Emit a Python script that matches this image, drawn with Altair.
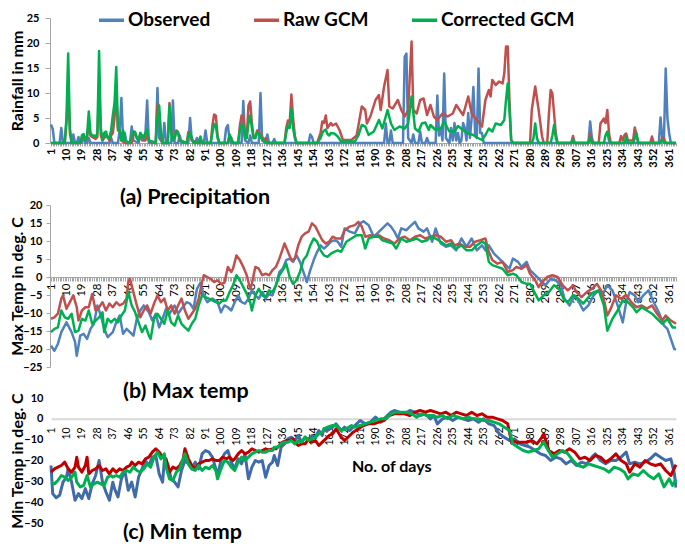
import altair as alt
import pandas as pd

SERIES = ["Observed", "Raw GCM", "Corrected GCM"]
COLORS_AB = ["#4F81BD", "#C0504D", "#00B050"]
COLORS_C = ["#3F6BAA", "#C00000", "#00B050"]
PANEL_TITLES = ["(a) Precipitation", "(b) Max temp", "(c) Min temp"]
Y_TITLES = ["Rainfall in mm", "Max Temp in deg. C", "Min Temp in deg. C"]
X_TITLE = "No. of days"
DAY_TICKS = list(range(1, 366))
PR_TICKS = [0, 5, 10, 15, 20, 25]
TMAX_TICKS = [-25, -20, -15, -10, -5, 0, 5, 10, 15, 20]
TMIN_TICKS = [-50, -40, -30, -20, -10, 0, 10]

# ---------------- precipitation (day, mm) ----------------
obs_precip = [(1,3.7),(2,2.8),(3,0),(6,0),(7,3.0),(8,0),(13,0),(14,1.7),(15,0),(16,0),(17,1.2),(18,0),(19,0),(20,1.5),(21,0),(22,0),(23,1.0),(24,0),(35,0),(36,1.0),(37,0),(40,0),(41,2.5),(42,9.0),(43,0.5),(44,2.0),(45,0),(47,0),(48,3.3),(49,0.5),(52,0),(53,2.0),(54,0.5),(56,2.0),(57,8.5),(58,0),(62,0),(63,11.0),(64,1.0),(66,0),(67,4.0),(68,0),(71,0),(72,8.5),(73,0),(75,0),(76,1.5),(77,0),(81,0),(82,5.0),(83,0.5),(85,0),(86,1.0),(87,0),(90,0),(91,2.5),(92,0),(102,0),(103,3.0),(104,3.6),(105,0.5),(106,0),(112,0),(113,8.4),(114,0.5),(116,0),(117,1.5),(118,0),(122,0),(123,10.0),(124,0.5),(126,0),(127,1.7),(128,0),(130,0),(131,0.8),(132,0),(151,0),(152,1.7),(153,1.2),(154,0),(195,0),(196,3.9),(197,0),(198,0),(199,2.5),(200,0),(206,0),(207,17.3),(208,17.9),(209,1.0),(211,0),(212,1.7),(213,0),(215,0),(216,2.3),(217,0),(219,0),(220,1.0),(221,0),(225,0),(226,9.5),(227,1.5),(228,3.0),(229,0.5),(230,13.9),(231,1.0),(233,0),(234,3.0),(235,0.5),(236,4.0),(237,0.5),(238,2.0),(239,0),(240,0.5),(241,4.0),(242,3.0),(243,0.5),(244,6.0),(245,1.0),(246,5.0),(247,11.2),(248,2.0),(249,1.0),(250,14.9),(251,2.0),(252,2.0),(253,0),(314,0),(315,4.3),(316,1.0),(317,0),(355,0),(356,5.1),(357,1.0),(358,1.0),(359,14.9),(360,5.0),(361,2.0),(362,0),(365,0)]

raw_precip = [(1,0),(9,0),(10,4),(11,11),(12,2),(13,0),(18,0),(19,1.0),(20,1.5),(21,0.5),(22,1.0),(23,4.0),(24,1.5),(25,1.2),(26,1.0),(27,0.8),(28,1.2),(29,12),(30,1.5),(31,0.5),(33,1.5),(34,1.2),(35,0.5),(36,1.5),(37,2.0),(38,5.0),(39,10.0),(40,2.5),(41,2.5),(42,0.5),(44,0),(48,0),(49,1.5),(50,2.0),(51,1.0),(52,0.5),(53,1.3),(54,1.5),(55,0.5),(56,0.5),(57,2.0),(58,0.5),(62,0),(63,7.8),(64,6.0),(65,1.0),(66,0),(69,0),(70,8.0),(71,2.5),(72,0.5),(73,1.0),(74,2.5),(75,2.2),(76,0.5),(80,0),(81,2.2),(82,2.0),(83,0.5),(87,0),(88,1.0),(89,0),(94,0),(95,3.5),(96,5.7),(97,5.5),(98,1.5),(99,0),(104,0),(105,1.5),(106,1.0),(107,0),(110,0),(111,3.5),(112,5.5),(113,5.3),(114,1.5),(115,1.0),(116,7.5),(117,8.3),(118,4.0),(119,1.0),(120,1.0),(121,2.5),(122,2.5),(123,1.5),(124,1.2),(125,0.5),(126,1.0),(127,0),(137,0),(138,3.0),(139,4.5),(140,4.0),(141,9.7),(142,5.0),(143,1.5),(144,0),(156,0),(157,1.0),(158,2.0),(159,4.3),(160,4.0),(161,5.5),(162,3.0),(163,3.5),(164,4.0),(165,3.5),(167,3.9),(169,2.6),(171,0.6),(176,0.6),(179,1.5),(182,7.3),(184,6.6),(185,3.9),(187,5.3),(190,8.6),(192,9.6),(193,6.6),(195,11.3),(197,14.6),(198,7.3),(200,6.9),(203,8.6),(205,6.6),(207,5.3),(209,6.6),(211,20.3),(212,6.6),(214,5.9),(216,8.6),(218,8.9),(220,5.6),(222,7.6),(224,5.3),(226,4.6),(229,5.9),(232,5.3),(235,5.9),(237,7.6),(239,6.6),(241,5.6),(244,9.3),(246,5.9),(249,4.6),(252,3.3),(254,8.6),(256,10.6),(257,9.3),(258,12.6),(260,11.6),(262,12.3),(264,11.9),(265,13.9),(266,19.3),(267,19.3),(268,8.6),(269,0.6),(270,0),(280,0),(281,6.6),(283,11.3),(285,6.6),(287,1.3),(288,0),(290,0),(291,5.9),(292,10.6),(293,9.9),(295,1.9),(296,0),(304,0),(305,1.4),(306,0),(314,0),(315,1.9),(316,0),(320,0),(321,3.9),(323,4.9),(324,4.0),(325,6.6),(326,1.9),(327,0),(332,0),(333,1.4),(334,0.5),(335,1.6),(336,1.9),(337,0.5),(340,0.5),(341,3.1),(342,1.6),(343,0),(350,0),(351,1.3),(352,0),(356,0),(357,1.1),(358,0.9),(359,0),(365,0)]

cor_precip = [(1,0),(9,0),(10,5.0),(11,17.9),(12,3.0),(13,0),(18,0),(19,1.5),(20,1.8),(21,0.5),(22,1.5),(23,6.3),(24,2.0),(25,1.5),(26,1.5),(27,1.2),(28,2.0),(29,18.4),(30,3.0),(31,0.5),(32,2.0),(33,2.3),(34,1.0),(35,1.0),(36,2.5),(37,5.5),(38,8.0),(39,15.2),(40,3.0),(41,2.5),(42,0.5),(43,2.5),(44,0.5),(47,0),(48,1.5),(49,2.3),(50,2.2),(51,1.0),(52,0.5),(53,2.0),(54,1.5),(55,1.0),(56,2.0),(57,2.7),(58,0.5),(62,0),(63,5.0),(64,7.5),(65,2.0),(66,0),(69,0),(70,7.5),(71,2.0),(72,0.5),(73,1.0),(74,2.3),(75,2.0),(76,0.5),(80,0),(81,1.5),(82,2.0),(83,1.0),(84,0),(87,0),(88,1.3),(89,0),(94,0),(95,2.0),(96,3.8),(97,3.5),(98,1.0),(99,0),(104,0),(105,1.7),(106,0.8),(107,0),(110,0),(111,2.5),(112,3.7),(113,3.5),(114,1.0),(115,1.0),(116,4.0),(117,5.5),(118,3.0),(119,1.0),(120,1.0),(121,2.0),(122,2.0),(123,1.0),(124,1.0),(125,0.3),(127,0),(137,0),(138,2.0),(139,3.5),(140,3.0),(141,6.8),(142,3.0),(143,1.0),(144,0),(156,0),(157,0.5),(158,1.0),(159,2.0),(160,2.5),(161,2.7),(162,1.8),(163,1.5),(164,2.0),(166,1.9),(168,1.3),(170,0.3),(178,0.3),(180,1.5),(182,3.6),(184,3.3),(186,1.6),(189,2.3),(192,4.6),(194,2.9),(197,6.6),(199,3.9),(201,2.6),(204,3.3),(207,2.9),(209,3.9),(211,9.3),(213,2.9),(215,2.3),(217,3.9),(219,4.1),(221,2.6),(222,3.6),(225,2.6),(228,2.9),(230,4.3),(233,2.3),(236,2.3),(238,3.4),(241,2.6),(244,1.9),(247,1.6),(249,1.1),(252,0.6),(254,1.6),(256,2.9),(258,2.3),(260,3.9),(263,3.6),(265,4.6),(266,8.6),(267,11.9),(268,6.6),(269,0.6),(270,0),(281,0),(282,1.0),(283,3.9),(284,1.0),(285,0),(292,0),(293,1.5),(294,3.6),(295,1.0),(296,0),(304,0),(305,0.7),(306,0),(314,0),(315,1.1),(316,0),(323,0),(324,1.6),(325,2.3),(326,0.5),(327,0),(335,0),(336,1.3),(337,0),(340,0),(341,1.0),(342,1.9),(343,0),(356,0),(357,0.7),(358,0),(365,0)]

# ---------------- max temperature (day, deg C) ----------------
obs_tmax = [(1,-19.1),(3,-20.5),(5,-18.6),(7,-15.3),(10,-12.6),(13,-15.3),(15,-18),(16,-21.9),(18,-16.3),(20,-15.8),(22,-17.2),(24,-14.4),(26,-13),(28,-7.9),(30,-10.7),(32,-14.4),(34,-16.7),(37,-15.3),(39,-12.6),(41,-10.7),(43,-15.8),(45,-14.4),(47,-15.3),(49,-16.3),(51,-11.6),(53,-9.3),(55,-7.9),(58,-9.8),(60,-12.1),(62,-10.2),(64,-14),(66,-11.6),(68,-8.8),(70,-10.2),(73,-7.9),(75,-10.2),(77,-8.8),(80,-7),(82,-7.4),(84,-8.8),(86,-3.3),(88,-1.6),(90,-5.1),(92,-7),(95,-6),(98,-7),(100,-9.8),(102,-7.9),(104,-8.4),(106,-9.3),(108,-7),(110,-5.1),(112,-7),(114,-7.4),(116,-6),(118,-3.7),(120,-5.1),(122,-6),(124,-4.2),(126,-6),(128,-4.7),(130,-5.1),(132,-2.3),(134,1.4),(136,2.3),(138,4.7),(140,5.1),(142,4.2),(144,6),(146,4.2),(148,1.4),(150,-1.4),(152,1.9),(154,4.7),(156,7),(158,8.8),(160,7.9),(162,8.8),(164,9.8),(166,10.2),(168,9.8),(170,8.4),(172,13.5),(175,12.6),(178,12.1),(181,14.9),(183,15.5),(186,14.4),(189,11.2),(191,12.1),(194,13.5),(197,14.9),(199,14),(201,12.6),(203,10.7),(205,13.5),(208,13),(210,14),(213,15.3),(215,13.5),(218,12.6),(220,13.5),(223,9.8),(225,13.5),(228,9.3),(231,8.4),(234,8.8),(237,7.4),(240,10.7),(243,8.4),(246,10.7),(249,7.4),(252,8.8),(254,7.4),(256,8.8),(259,6.5),(262,5.1),(265,3.7),(268,2.3),(270,5.1),(273,4.2),(275,2.8),(278,4.2),(280,1.9),(283,0.5),(286,-0.9),(289,-2.3),(292,-0.5),(295,-0.9),(298,-2.3),(300,-6),(303,-7.9),(306,-5.1),(309,-7.4),(311,-9.3),(314,-7.9),(317,-5.1),(320,-3.7),(322,-5.1),(325,-2.3),(328,-3.7),(331,-7.9),(334,-12.6),(336,-7),(338,-4.2),(341,-5.1),(343,-7),(346,-5.1),(349,-3.7),(352,-7),(355,-9.8),(358,-13.5),(360,-14.4),(362,-17.2),(364,-20),(365,-20.2)]

raw_tmax = [(1,-11.6),(3,-11.2),(5,-10.2),(7,-6),(8,-5.1),(10,-8.8),(12,-7),(14,-5.1),(16,-8.4),(17,-12.1),(19,-9.3),(21,-8.4),(23,-8.4),(25,-4.7),(27,-9.3),(29,-8.4),(31,-7),(33,-9.3),(35,-7.4),(37,-8.4),(39,-7),(41,-7.9),(43,-7.4),(45,-6),(46,-1.4),(47,-0.5),(49,-4.2),(51,-7.9),(53,-11.2),(55,-9.3),(57,-7.9),(59,-10.2),(61,-7.4),(63,-5.1),(65,-7),(67,-6),(69,-9.3),(71,-7.9),(73,-10.2),(75,-7.9),(77,-6),(79,-9.3),(81,-11.6),(83,-10.2),(85,-8.8),(87,-6),(89,-1.4),(90,0.5),(92,0),(94,-0.5),(96,-1.4),(98,-0.9),(100,-1.9),(102,-1.6),(104,2.8),(106,1.4),(107,2.3),(109,6),(111,4.7),(113,2.8),(115,0.5),(117,-3.3),(118,-1.9),(120,2.8),(122,2.3),(124,0.5),(126,0.9),(128,0.5),(130,1.9),(132,2.8),(134,5.1),(136,7.9),(137,9.3),(139,7),(141,4.7),(143,5.1),(145,8.8),(147,11.2),(149,12.1),(151,12.6),(153,14.9),(155,14),(157,12.1),(159,10.2),(161,9.3),(163,9.8),(165,11.2),(167,10.7),(170,10.7),(172,13),(175,14),(178,14.4),(180,15.3),(182,14),(184,11.2),(187,11.6),(189,11.2),(192,11.6),(195,10.7),(198,10.2),(201,9.3),(204,10.7),(207,11.2),(210,10.2),(213,11.2),(216,11.6),(219,10.7),(222,11.2),(225,11.6),(228,11.2),(231,9.8),(234,10.2),(236,8.8),(239,9.3),(242,8.4),(245,8.4),(248,9.8),(251,10.2),(254,10.7),(256,7),(258,4.7),(261,3.7),(264,4.2),(267,1.4),(270,1.9),(272,2.8),(275,2.3),(278,3.3),(280,0.9),(283,-0.9),(285,-2.8),(287,-1.4),(290,0),(293,0.5),(296,0),(299,-2.3),(302,-3.7),(305,-2.3),(307,-4.2),(310,-5.6),(313,-4.2),(316,-3.3),(319,-1.9),(322,-4.2),(325,-10.7),(327,-8.8),(330,-5.1),(333,-6),(336,-5.1),(339,-7),(342,-8.4),(345,-7.9),(348,-8.8),(351,-7.9),(354,-10.2),(357,-12.1),(359,-10.7),(362,-12.1),(365,-13)]

cor_tmax = [(1,-15.3),(3,-14.4),(5,-14),(7,-9.3),(9,-11.2),(11,-11.6),(13,-10.2),(15,-15.3),(17,-14.9),(19,-11.6),(21,-12.1),(23,-9.3),(25,-13),(27,-12.1),(29,-11.2),(31,-9.8),(32,-15.3),(34,-11.6),(36,-12.6),(38,-11.6),(40,-12.6),(42,-10.7),(44,-9.3),(46,-4.2),(48,-7.9),(50,-9.8),(52,-12.6),(54,-15.3),(56,-13.5),(58,-16.3),(59,-17.2),(61,-11.6),(63,-10.2),(65,-11.6),(67,-13),(69,-9.3),(71,-12.6),(73,-13.5),(75,-10.7),(77,-13),(79,-14),(81,-14.9),(83,-13),(85,-11.6),(87,-7.9),(89,-5.1),(91,-5.6),(93,-6),(95,-6.5),(97,-7),(99,-7.4),(101,-6.5),(103,-6.5),(105,-4.2),(107,-2.3),(109,0.5),(111,-0.9),(113,-2.8),(115,-4.7),(117,-7),(118,-9.3),(120,-5.1),(122,-3.3),(124,-5.1),(126,-5.6),(128,-3.7),(130,-4.2),(132,-2.3),(134,0.5),(136,1.9),(138,3.7),(140,0),(142,-1.9),(144,-0.9),(146,1.4),(148,4.7),(150,6),(152,8.8),(154,10.7),(156,9.8),(158,7.4),(160,6),(162,5.6),(164,6.5),(166,7),(168,7.4),(170,7),(173,9.8),(176,10.7),(179,11.6),(182,11.6),(184,7.9),(186,10.7),(189,11.2),(192,11.2),(194,10.2),(197,9.8),(200,9.3),(202,7.9),(205,10.7),(208,9.8),(211,10.2),(214,10.7),(217,9.8),(220,10.2),(222,11.2),(225,10.7),(228,9.8),(231,8.8),(234,9.3),(237,7.9),(240,8.8),(243,7.4),(246,7.4),(249,8.8),(252,9.8),(254,9.3),(256,4.2),(258,3.3),(261,2.8),(264,2.3),(267,0.5),(270,0.9),(272,0.5),(275,-1.4),(278,-1.9),(280,-1.9),(282,-3.7),(285,-6.5),(288,-5.1),(291,-4.2),(294,-2.3),(297,-3.3),(300,-6.5),(302,-7),(305,-5.1),(308,-6),(311,-7.4),(314,-5.6),(317,-4.2),(320,-3.7),(323,-7.9),(325,-14.9),(328,-11.6),(331,-9.3),(334,-6.5),(337,-7),(340,-8.4),(342,-9.8),(345,-8.4),(348,-9.3),(351,-10.2),(354,-11.6),(357,-13),(360,-11.6),(363,-14),(365,-14)]

# ---------------- min temperature (day, deg C) ----------------
obs_tmin = [(1,-22.4),(2,-35.9),(4,-37.9),(6,-36.7),(8,-30.4),(10,-28),(11,-24),(13,-30.4),(15,-39.1),(17,-35.9),(19,-38.3),(21,-33.5),(23,-38.3),(25,-31.2),(27,-27.2),(29,-20),(31,-30.4),(33,-35.1),(35,-39.1),(37,-30.4),(38,-33.5),(40,-37.5),(42,-28.8),(44,-24.8),(46,-34.3),(48,-30.4),(50,-37.5),(52,-28),(54,-24),(56,-20),(58,-22.4),(60,-18.4),(62,-17.6),(64,-26.4),(66,-30.4),(67,-20),(69,-21.6),(71,-28.8),(73,-30.4),(75,-32.7),(77,-24.8),(79,-20),(81,-21.6),(83,-24),(85,-20.8),(87,-24),(89,-16.8),(91,-15.2),(93,-16),(95,-18.4),(97,-24),(98,-27.2),(100,-20),(102,-16.8),(104,-15.2),(106,-20.8),(108,-24),(110,-19.2),(112,-21.6),(114,-16.8),(116,-28.8),(118,-23.2),(120,-20),(122,-20.8),(124,-20),(126,-28),(128,-22.4),(130,-20.8),(131,-17.6),(133,-22.4),(135,-13.6),(137,-12),(139,-9.6),(141,-8.8),(143,-10.4),(145,-8),(147,-11.2),(149,-8.8),(151,-10.4),(153,-8),(155,-8.8),(157,-5.6),(159,-8),(160,-4.8),(162,-5.6),(165,-4),(167,-2.4),(170,-5.6),(172,-4),(175,-5.6),(178,-3.2),(181,-0.8),(184,-2.4),(187,-1.6),(190,0.8),(193,-1.6),(196,0.8),(199,3.2),(201,4),(204,3.2),(207,2.4),(210,4),(213,3.2),(216,1.6),(219,2.4),(222,0),(224,1.6),(226,-2.4),(229,0),(232,0.8),(235,-0.8),(238,0.8),(241,0),(244,-0.8),(247,0),(250,-1.6),(253,0),(256,-2.4),(259,-3.2),(262,-7.2),(265,-8.8),(268,-10.4),(271,-9.6),(274,-12),(277,-12.8),(280,-13.6),(283,-15.2),(286,-16.8),(289,-17.6),(292,-20),(295,-18.4),(298,-19.2),(301,-21.6),(304,-20),(307,-22.4),(310,-20.8),(313,-21.6),(316,-18.4),(318,-16.8),(321,-20),(324,-21.6),(327,-20),(330,-20),(333,-18.4),(336,-16),(338,-21.6),(341,-20.8),(344,-21.6),(347,-20.8),(350,-19.2),(353,-16.8),(356,-18.4),(359,-20),(362,-19.2),(364,-26),(365,-33)]

raw_tmin = [(1,-25.6),(3,-24),(5,-23.2),(7,-22.4),(9,-20.8),(11,-24),(13,-25.6),(15,-23.2),(16,-18.4),(17,-23.2),(19,-25.6),(21,-22.4),(22,-18.4),(23,-26.4),(25,-24.8),(27,-24),(29,-22.4),(31,-24.8),(33,-24),(35,-26.4),(37,-24),(39,-25.6),(41,-24),(43,-24.8),(45,-23.2),(47,-22.4),(48,-20.8),(50,-22.4),(52,-20.8),(54,-21.6),(56,-19.2),(58,-18.4),(60,-16),(62,-14.4),(64,-16),(66,-18.4),(68,-19.2),(70,-25.6),(72,-23.2),(74,-24),(76,-22.4),(78,-19.2),(79,-14.4),(81,-19.2),(83,-22.4),(85,-24),(87,-21.6),(89,-20.8),(91,-20),(93,-20),(95,-19.2),(97,-20),(99,-20),(101,-18.4),(103,-19.2),(105,-18.4),(107,-20),(108,-19.2),(110,-16.8),(112,-15.2),(114,-16.8),(116,-16),(118,-14.4),(120,-15.2),(122,-16),(124,-15.2),(126,-14.4),(128,-14.9),(130,-14.4),(132,-14.4),(134,-12.8),(136,-11.2),(138,-10.4),(140,-10.4),(142,-9.6),(143,-11.2),(145,-12.8),(147,-12),(149,-12),(151,-9.6),(153,-11.2),(155,-10.4),(157,-12.8),(159,-11.2),(161,-9.6),(163,-8),(165,-7.2),(167,-4.8),(170,-8.8),(172,-10.4),(175,-8),(177,-6.4),(180,-4.8),(183,-3.2),(186,-2.4),(189,-2.4),(192,-1.6),(195,-0.8),(198,1.6),(201,2.4),(204,2.4),(207,2.4),(210,1.6),(213,3.2),(216,4),(219,3.2),(222,4),(225,3.2),(228,2.4),(231,3.2),(234,1.6),(237,3.2),(240,2.4),(243,1.6),(246,3.2),(249,1.6),(252,2.4),(255,0.8),(258,0.8),(261,0),(264,-0.8),(267,-2.4),(269,-10.4),(272,-11.2),(275,-11.2),(278,-11.2),(281,-10.4),(284,-12),(287,-8.8),(288,-7.2),(291,-15.2),(294,-16.8),(297,-15.2),(300,-16),(303,-14.4),(306,-16),(309,-19.2),(312,-18.4),(315,-20),(318,-17.6),(321,-18.4),(324,-20.8),(327,-19.2),(330,-16.8),(333,-20),(336,-21.6),(338,-25.6),(341,-21.6),(344,-23.2),(347,-20),(350,-21.6),(353,-22.4),(356,-21.6),(359,-24.8),(362,-27.2),(365,-22)]

cor_tmin = [(1,-30.4),(3,-31.2),(5,-29.6),(7,-27.2),(9,-28),(11,-29.6),(13,-28),(15,-25.6),(16,-30.4),(18,-32.7),(20,-32),(22,-27.2),(24,-32.7),(26,-31.2),(28,-30.4),(30,-31.2),(32,-32),(34,-28),(36,-27.2),(37,-28),(39,-27.2),(41,-28),(43,-25.6),(45,-24.8),(47,-25.6),(49,-23.2),(51,-24.8),(53,-25.6),(55,-24),(57,-21.6),(59,-23.2),(61,-18.4),(63,-16),(65,-19.2),(67,-16.8),(68,-23.2),(70,-28.8),(72,-29.6),(74,-25.6),(76,-24),(78,-19.2),(79,-16.8),(81,-21.6),(83,-24),(85,-24.8),(87,-22.4),(89,-24.8),(91,-23.2),(93,-24),(95,-22.4),(97,-24.8),(98,-28.8),(100,-24),(102,-20),(104,-20.8),(106,-23.2),(108,-24.8),(110,-20.8),(112,-18.4),(114,-20),(116,-18.4),(118,-16.8),(120,-16),(122,-15.2),(124,-16),(126,-16),(128,-15.2),(130,-15.2),(131,-13.6),(133,-13.6),(135,-12),(137,-11.2),(139,-11.2),(141,-10.4),(143,-12),(145,-10.4),(147,-11.2),(149,-8.8),(151,-10.4),(153,-9.6),(155,-8.8),(157,-7.2),(159,-6.4),(160,-4.8),(162,-4),(165,-3.2),(167,-3.2),(170,-5.6),(173,-4.8),(176,-3.2),(178,-4),(181,-3.2),(184,-2.4),(187,-1.6),(190,-0.8),(193,0),(196,0),(199,2.4),(202,3.2),(205,3.2),(208,3.2),(211,2.4),(214,0.8),(217,2.4),(220,1.6),(223,1.6),(226,0.8),(229,1.6),(232,0),(235,1.6),(238,0.8),(241,0),(244,0.8),(247,0),(250,0),(253,-0.8),(256,-0.8),(259,-1.6),(262,-2.4),(265,-4),(268,-5.6),(270,-12),(273,-13.6),(276,-15.2),(279,-16),(282,-15.2),(285,-14.4),(288,-11.2),(290,-14.4),(293,-18.4),(296,-16.8),(299,-15.2),(302,-16.8),(305,-20),(308,-22.4),(311,-23.2),(314,-21.6),(317,-22.4),(320,-23.2),(323,-24),(326,-25.6),(329,-23.2),(332,-24),(335,-25.6),(337,-28.8),(340,-26.4),(343,-27.2),(346,-24.8),(349,-27.2),(352,-28.8),(355,-26.4),(358,-32.7),(361,-28.8),(363,-32),(365,-29)]

W, H = 627, 526
FONT = "Lato"


def to_df(series_lists):
    rows = []
    for name, pts in zip(SERIES, series_lists):
        for d, v in pts:
            rows.append({"day": d, "value": v, "series": name})
    return pd.DataFrame(rows)


def panel(df, colors, ydom, yrng, yvals, ytitle, zero_y, xcfg, ycfg, sw, legend):
    xaxis = alt.Axis(
        orient="bottom", offset=-(H - zero_y), values=DAY_TICKS,
        labelExpr="(datum.value - 1) % 9 == 0 ? '' + datum.value : ''",
        labelAngle=-90, labelOverlap=False, labelFlush=False, labelBound=False,
        grid=False, title=None, labelFont=FONT, labelColor="#000000", **xcfg)
    x = alt.X("day:Q", scale=alt.Scale(domain=[1, 365], range=[1, 626], nice=False, zero=False), axis=xaxis)
    yaxis = alt.Axis(
        orient="left", values=yvals, title=ytitle, titleX=-33,
        titleY=(yrng[0] + yrng[1]) / 2, titleAngle=-90, titleBaseline="middle",
        titleAlign="center", titleFont=FONT, titleFontSize=16, titleFontWeight="bold",
        titleColor="#000000", grid=False, labelFont=FONT, labelColor="#000000",
        labelFontWeight="bold", **ycfg)
    y = alt.Y("value:Q", scale=alt.Scale(domain=ydom, range=yrng, nice=False, zero=False), axis=yaxis)
    color = alt.Color("series:N", scale=alt.Scale(domain=SERIES, range=colors), legend=legend)
    base = alt.Chart(df).encode(x=x, y=y, color=color)
    layers = [base.transform_filter(alt.datum.series == s).mark_line(strokeWidth=sw, strokeJoin="round")
              for s in SERIES]
    return alt.layer(*layers)


legend_top = alt.Legend(
    orient="none", legendX=47, legendY=-12.5, direction="horizontal", title=None,
    symbolType="stroke", symbolSize=625, symbolStrokeWidth=3.5, labelFont=FONT,
    labelFontSize=19, labelFontWeight="bold", labelColor="#000000", columnPadding=36,
    labelOffset=2, padding=0)

pa = panel(to_df([obs_precip, raw_precip, cor_precip]), COLORS_AB, [0, 25], [125, 0], PR_TICKS,
           Y_TITLES[0], 125,
           dict(tickSize=3, tickColor="#A6A6A6", domainColor="#A6A6A6", labelFontSize=11,
                labelFontWeight="bold", labelPadding=2),
           dict(tickSize=5, tickColor="#A6A6A6", domainColor="#A6A6A6", labelFontSize=11, labelPadding=6),
           2.5, legend_top)

pb = panel(to_df([obs_tmax, raw_tmax, cor_tmax]), COLORS_AB, [-25, 20], [349, 187], TMAX_TICKS,
           Y_TITLES[1], 259,
           dict(tickSize=4, tickColor="#A6A6A6", domainColor="#A6A6A6", labelFontSize=11.5,
                labelFontWeight="normal", labelPadding=2),
           dict(tickSize=4, tickColor="#A6A6A6", domainColor="#A6A6A6", labelFontSize=11, labelPadding=4),
           2.5, None)

pc = panel(to_df([obs_tmin, raw_tmin, cor_tmin]), COLORS_C, [-50, 10], [505, 380], TMIN_TICKS,
           Y_TITLES[2], 400.8,
           dict(ticks=False, domainColor="#D9D9D9", domainWidth=2, labelFontSize=10.5,
                labelFontWeight="normal", labelPadding=8),
           dict(ticks=False, domain=False, labelFontSize=11, labelPadding=7),
           3, None)


def label_layer(text, x, y, size):
    return alt.Chart(pd.DataFrame({"t": [text]})).mark_text(
        align="left", baseline="middle", font=FONT, fontSize=size, fontWeight="bold", color="#000000"
    ).encode(text="t:N", x=alt.value(x), y=alt.value(y))


ta = label_layer(PANEL_TITLES[0], 70, 180, 21.5)
tb = label_layer(PANEL_TITLES[1], 73, 374, 21.5)
tc = label_layer(PANEL_TITLES[2], 73, 515, 21.5)
tx = label_layer(X_TITLE, 302, 449, 16)

chart = alt.layer(pa, pb, pc, ta, tb, tc, tx).resolve_scale(
    x="independent", y="independent", color="independent"
).properties(
    width=W, height=H,
    autosize=alt.AutoSizeParams(type="none"),
    padding={"left": 42, "top": 10, "right": 0, "bottom": 0},
).configure_view(stroke=None)

chart.save("out.html", embed_options={"renderer": "svg", "actions": False})
